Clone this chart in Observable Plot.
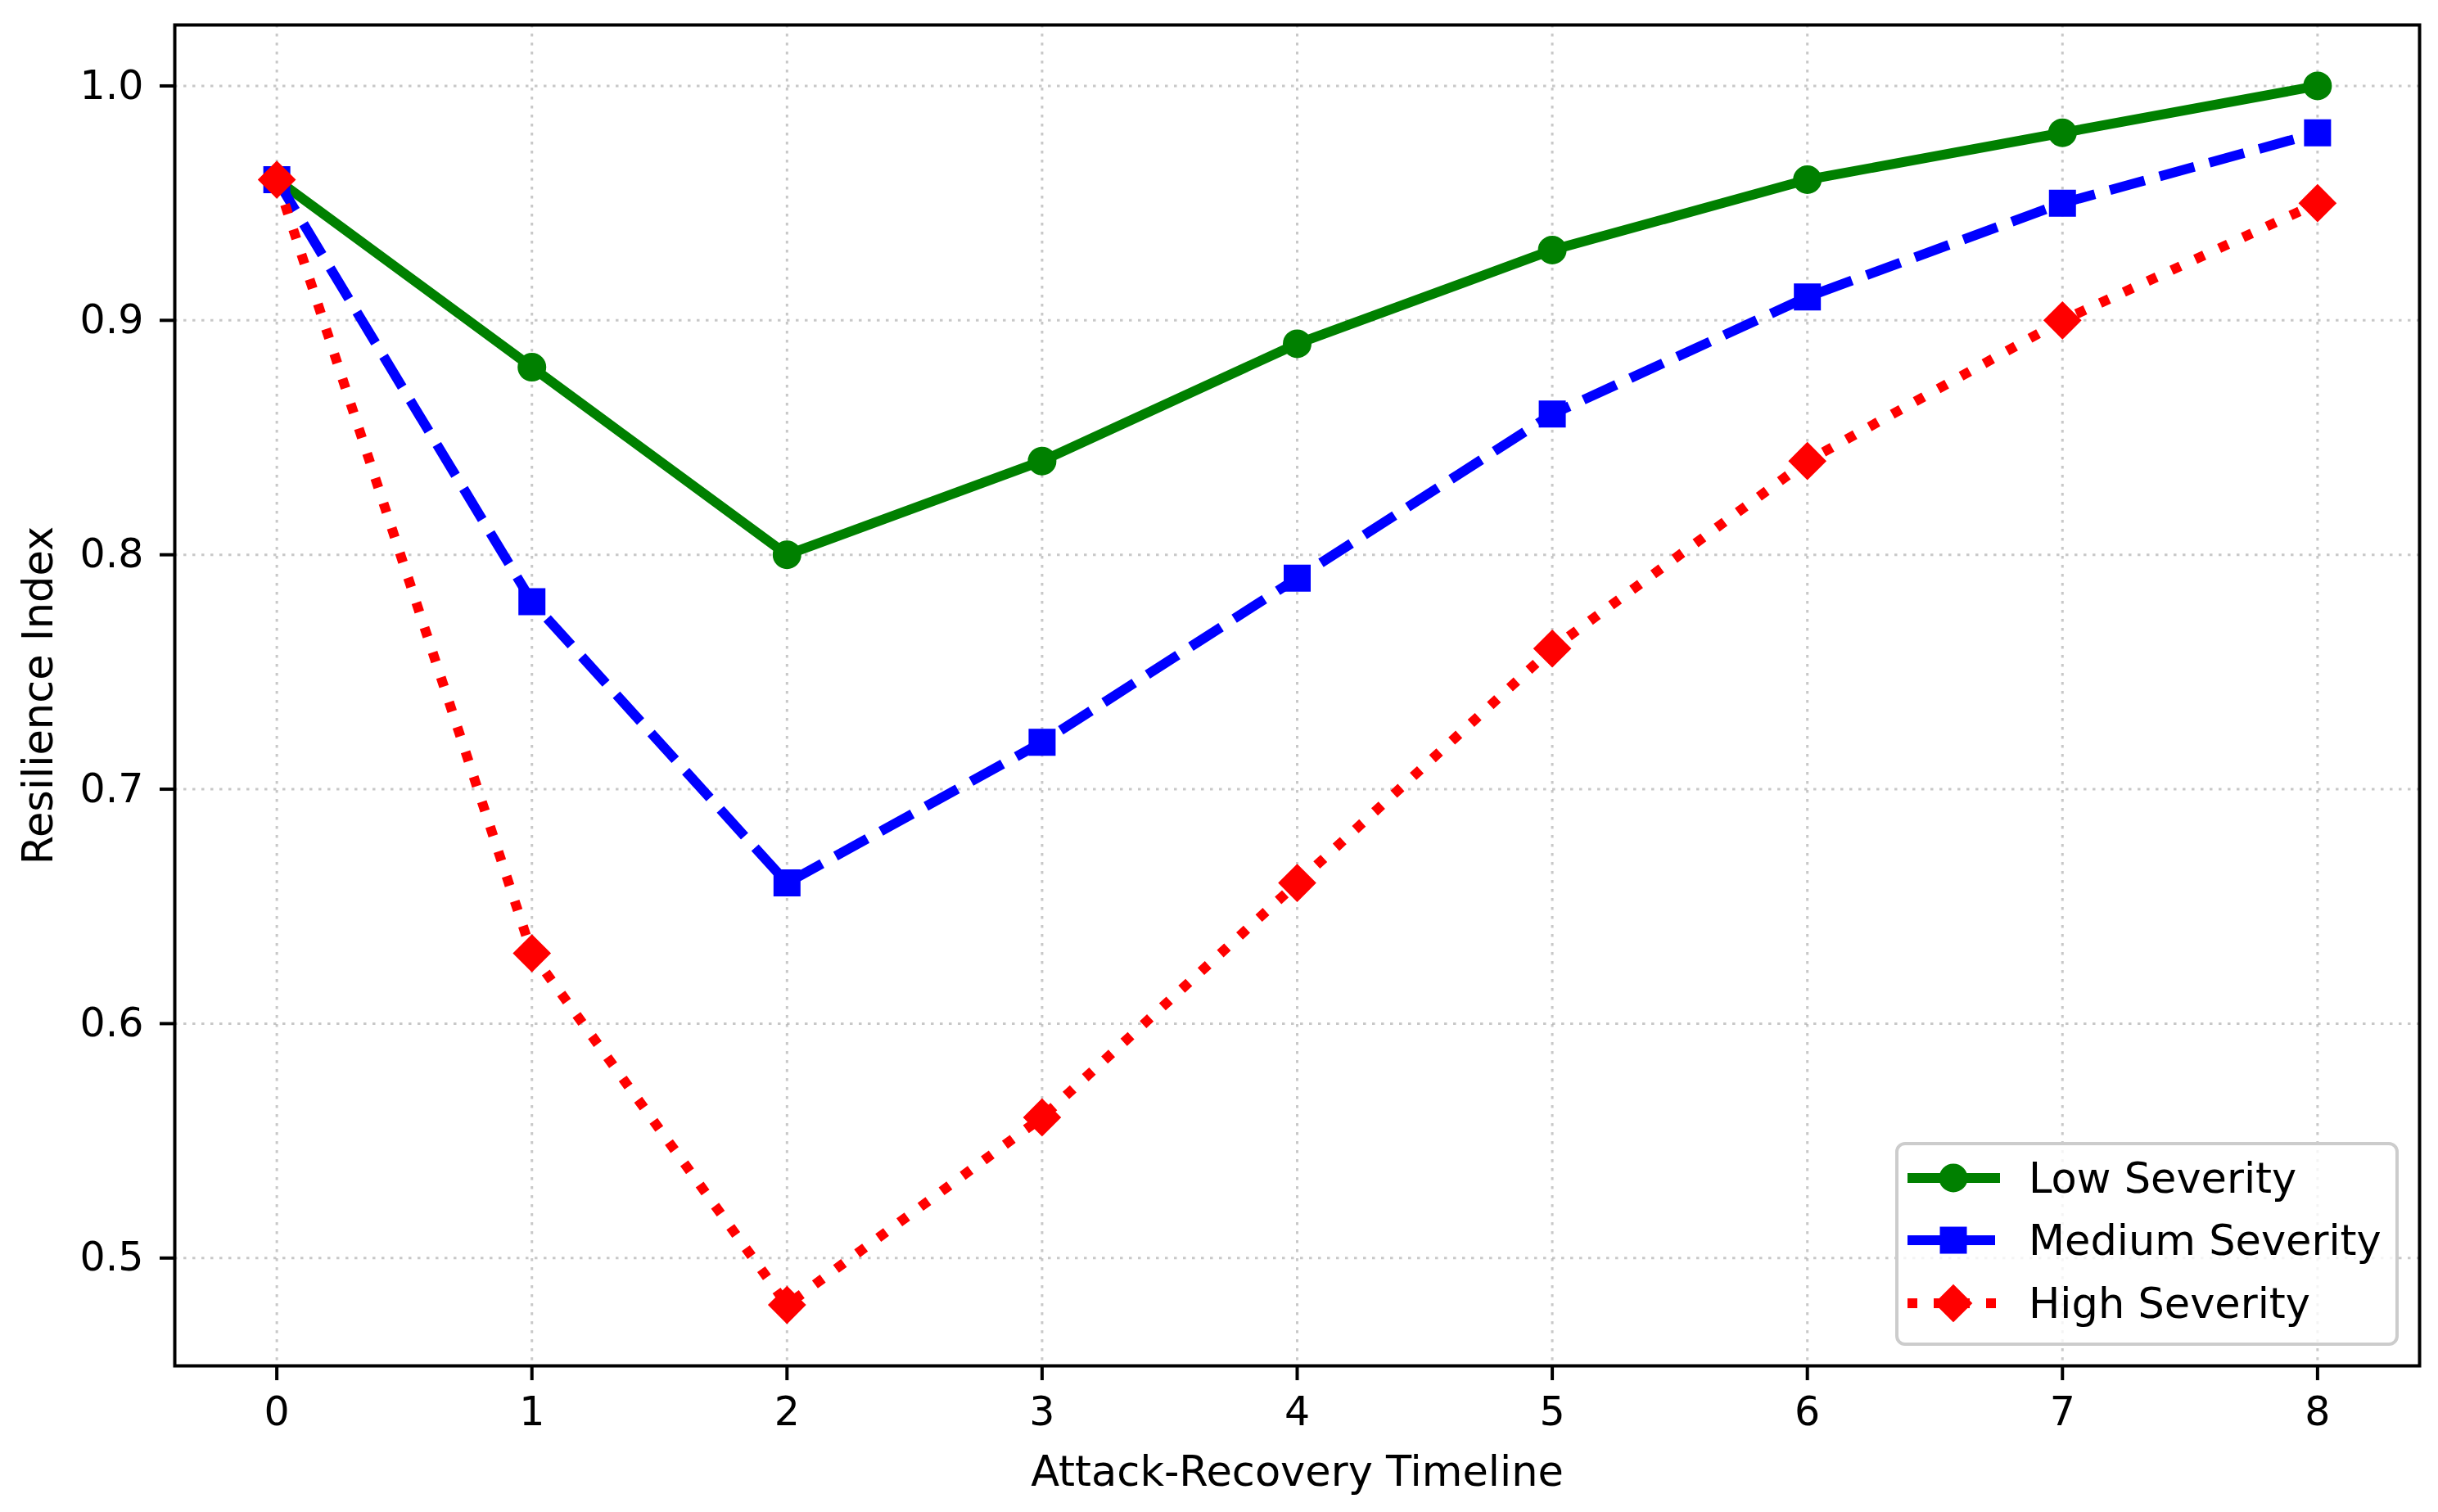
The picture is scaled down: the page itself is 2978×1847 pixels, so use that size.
<!DOCTYPE html>
<html><head><meta charset="utf-8">
<script src="https://cdn.jsdelivr.net/npm/d3@7"></script>
<script src="https://cdn.jsdelivr.net/npm/@observablehq/plot@0.6"></script>
<style>
html,body{margin:0;padding:0;background:#fff}
#chart svg{display:block}
</style>
</head><body><div id="chart"></div>
<script>
// ---- data ----
const timeline = [0, 1, 2, 3, 4, 5, 6, 7, 8];
const lowSeverity = [0.96, 0.88, 0.80, 0.84, 0.89, 0.93, 0.96, 0.98, 1.00];
const mediumSeverity = [0.96, 0.78, 0.66, 0.72, 0.79, 0.86, 0.91, 0.95, 0.98];
const highSeverity = [0.96, 0.63, 0.48, 0.56, 0.66, 0.76, 0.84, 0.90, 0.95];
const seriesNames = ["Low Severity", "Medium Severity", "High Severity"];
const xTicks = [0, 1, 2, 3, 4, 5, 6, 7, 8];
const yTicks = [0.5, 0.6, 0.7, 0.8, 0.9, 1.0];
const xLabel = "Attack-Recovery Timeline";
const yLabel = "Resilience Index";

// ---- custom marker shapes (matplotlib-like) ----
const squareSym = {draw(ctx, size) {const h = Math.sqrt(size / Math.PI); ctx.moveTo(-h, -h); ctx.lineTo(h, -h); ctx.lineTo(h, h); ctx.lineTo(-h, h); ctx.closePath();}};
const diamondSym = {draw(ctx, size) {const h = Math.sqrt(size / Math.PI) * Math.SQRT2; ctx.moveTo(0, -h); ctx.lineTo(h, 0); ctx.lineTo(0, h); ctx.lineTo(-h, 0); ctx.closePath();}};
const circleSym = d3.symbolCircle;

const styles = [
  {color: "green", dash: null, symbol: circleSym, r: 15},
  {color: "blue", dash: "44,19", symbol: squareSym, r: 14},
  {color: "red", dash: "12,20", symbol: diamondSym, r: 14}
];
const seriesValues = [lowSeverity, mediumSeverity, highSeverity];
const tables = seriesValues.map((vals, i) => timeline.map((t, j) => ({t, v: vals[j], s: seriesNames[i]})));

const FONT = "DejaVu Sans, sans-serif";
const FS = 49;
const LFS = 51;
const W = 2978, H = 1847;
const mL = 213, mR = 23, mT = 30, mB = 179;

const seriesMarks = [];
tables.forEach((d, i) => {
  const st = styles[i];
  seriesMarks.push(Plot.line(d, {x: "t", y: "v", stroke: st.color, strokeWidth: 12, strokeDasharray: st.dash, strokeLinecap: "butt", strokeLinejoin: "round"}));
  seriesMarks.push(Plot.dot(d, {x: "t", y: "v", symbol: () => st.symbol, r: st.r, fill: st.color, stroke: st.color, strokeWidth: 5}));
});

const plot = Plot.plot({
  width: W, height: H,
  marginLeft: mL, marginRight: mR, marginTop: mT, marginBottom: mB,
  style: {fontFamily: FONT, fontSize: FS + "px", color: "#000", background: "#fff"},
  symbol: {type: "identity"},
  x: {domain: [-0.4, 8.4]},
  y: {domain: [0.454, 1.026]},
  marks: [
    Plot.gridX(xTicks, {stroke: "#b0b0b0", strokeOpacity: 0.7, strokeWidth: 3, strokeDasharray: "3.5,7.5"}),
    Plot.gridY(yTicks, {stroke: "#b0b0b0", strokeOpacity: 0.7, strokeWidth: 3, strokeDasharray: "3.5,7.5"}),
    ...seriesMarks,
    Plot.frame({stroke: "#000", strokeWidth: 4}),
    Plot.axisX(xTicks, {tickSize: 18, tickPadding: 20, strokeWidth: 4, fontSize: FS, tickFormat: d => String(d), label: null}),
    Plot.axisX({label: xLabel, labelAnchor: "center", labelArrow: "none", labelOffset: 146, fontSize: LFS, ticks: []}),
    Plot.axisY(yTicks, {tickSize: 18, tickPadding: 20, strokeWidth: 4, fontSize: FS, tickFormat: d3.format(".1f"), label: null}),
    Plot.axisY({label: yLabel, labelAnchor: "center", labelArrow: "none", labelOffset: 186, fontSize: LFS, ticks: []})
  ]
});

// ---- legend (inside the axes, lower right, like matplotlib) ----
const svg = d3.select(plot);
const lg = svg.append("g").attr("font-family", FONT).attr("font-size", LFS).attr("text-anchor", "start");
const bx = 2317, by = 1397, bw = 611, bh = 245;
lg.append("rect").attr("x", bx).attr("y", by).attr("width", bw).attr("height", bh)
  .attr("rx", 10).attr("fill", "#fff").attr("fill-opacity", 0.8).attr("stroke", "#cccccc").attr("stroke-width", 4);
const rowY = [1439, 1515, 1592];
seriesNames.forEach((name, i) => {
  const st = styles[i];
  const y = rowY[i];
  lg.append("line").attr("x1", 2330).attr("x2", 2443).attr("y1", y).attr("y2", y)
    .attr("stroke", st.color).attr("stroke-width", 12).attr("stroke-dasharray", st.dash);
  const path = d3.path();
  st.symbol.draw(path, Math.PI * st.r * st.r);
  lg.append("path").attr("d", path.toString()).attr("transform", `translate(2386,${y})`)
    .attr("fill", st.color).attr("stroke", st.color).attr("stroke-width", 5);
  lg.append("text").attr("x", 2478).attr("y", y).attr("dy", "0.36em").attr("fill", "#000").attr("text-anchor", "start").text(name);
});

document.getElementById("chart").appendChild(plot);
</script>
</body></html>
